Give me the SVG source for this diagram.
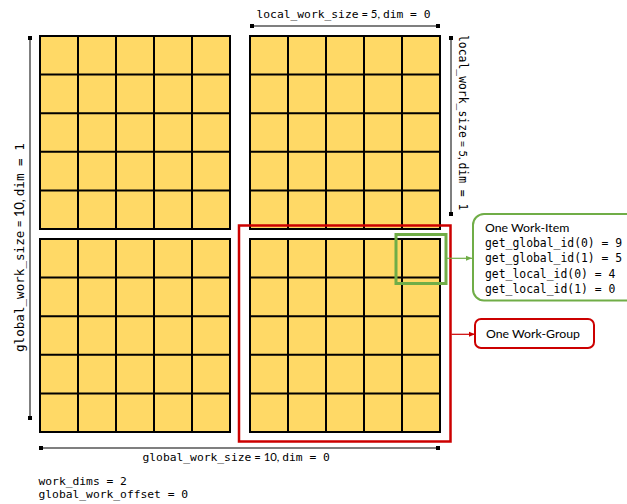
<svg xmlns="http://www.w3.org/2000/svg" width="627" height="504" viewBox="0 0 627 504">
<defs>
<style>
.cell{fill:#FFD966;stroke:#000;stroke-width:2}
.grid{stroke:#000;stroke-width:2;fill:none}
.dim{stroke:#555;stroke-width:1.5;fill:none}
.mk{fill:#000}
.mono{font-family:"DejaVu Sans Mono",monospace;fill:#000}
.sans{font-family:Lato,"Liberation Sans",sans-serif;fill:#000}
</style>
<marker id="ag" viewBox="0 0 6 6" refX="6" refY="3" markerWidth="6" markerHeight="6" markerUnits="userSpaceOnUse" orient="auto"><path d="M0,0.5 L6,3 L0,5.5 Z" fill="#70AD47"/></marker>
<marker id="ar" viewBox="0 0 6 6" refX="6" refY="3" markerWidth="6" markerHeight="6" markerUnits="userSpaceOnUse" orient="auto"><path d="M0,0.5 L6,3 L0,5.5 Z" fill="#CC0000"/></marker>
<g id="grid5">
<rect width="190" height="193" fill="#FFD966"/>
<path class="grid" d="M38,0V193M76,0V193M114,0V193M152,0V193M0,38.6H190M0,77.2H190M0,115.8H190M0,154.4H190"/>
<rect width="190" height="193" class="grid"/>
</g>
</defs>
<g id="wg-tl"><use href="#grid5" x="40" y="36"/></g>
<g id="wg-tr"><use href="#grid5" x="250" y="36"/></g>
<g id="wg-bl"><use href="#grid5" x="40" y="239"/></g>
<g id="wg-br"><use href="#grid5" x="250" y="239"/></g>
<g id="workgroup-highlight"><rect x="239" y="225.5" width="211.5" height="216" fill="none" stroke="#CC0000" stroke-width="2.5"/></g>
<g id="workitem-highlight"><rect x="396" y="234.5" width="50" height="49" fill="none" stroke="#70AD47" stroke-width="3"/></g>
<g id="dimensions">
<path class="dim" d="M252,26H438M451,38V214M30,38V418M41,448H438"/>
<rect class="mk" x="250" y="24" width="4" height="4"/>
<rect class="mk" x="436" y="24" width="4" height="4"/>
<rect class="mk" x="449" y="36" width="4" height="4"/>
<rect class="mk" x="449" y="212" width="4" height="4"/>
<rect class="mk" x="28" y="36" width="4" height="4"/>
<rect class="mk" x="28" y="416" width="4" height="4"/>
<rect class="mk" x="39" y="446" width="4" height="4"/>
<rect class="mk" x="436" y="446" width="4" height="4"/>
<text x="256.5" y="17.5" font-size="11.3"><tspan class="mono">local_work_size</tspan><tspan class="sans"> = 5, </tspan><tspan class="mono">dim = 0</tspan></text>
<text transform="translate(459,35) rotate(90)" font-size="11.4"><tspan class="mono">local_work_size</tspan><tspan class="sans"> = 5, </tspan><tspan class="mono">dim = 1</tspan></text>
<text transform="translate(24,352) rotate(-90)" font-size="12.6"><tspan class="mono">global_work_size</tspan><tspan class="sans"> = 10, </tspan><tspan class="mono">dim = 1</tspan></text>
<text x="142.5" y="461" font-size="11.3"><tspan class="mono">global_work_size</tspan><tspan class="sans"> = 10, </tspan><tspan class="mono">dim = 0</tspan></text>
</g>
<g id="connectors">
<path d="M447,258.3H472" stroke="#70AD47" stroke-width="1.2" fill="none" marker-end="url(#ag)"/>
<path d="M451.5,334.3H475" stroke="#CC0000" stroke-width="1.2" fill="none" marker-end="url(#ar)"/>
</g>
<g id="node-workitem">
<rect x="473" y="214" width="175" height="86.5" rx="11" fill="#fff" stroke="#70AD47" stroke-width="2"/>
<text class="sans" x="485" y="232" font-size="12.3">One Work-Item</text>
<text class="mono" x="485" font-size="11.4"><tspan x="485" y="247">get_global_id(0) = 9</tspan><tspan x="485" y="262.3">get_global_id(1) = 5</tspan><tspan x="485" y="277.6">get_local_id(0) = 4</tspan><tspan x="485" y="292.9">get_local_id(1) = 0</tspan></text>
</g>
<g id="node-workgroup">
<rect x="475" y="319" width="119" height="29" rx="6" fill="#fff" stroke="#CC0000" stroke-width="2"/>
<text class="sans" x="486" y="338" font-size="12.3">One Work-Group</text>
</g>
<g id="notes">
<text class="mono" x="38.5" y="484.5" font-size="11.3">work_dims = 2</text>
<text class="mono" x="38.5" y="498" font-size="11.3">global_work_offset = 0</text>
</g>
</svg>
